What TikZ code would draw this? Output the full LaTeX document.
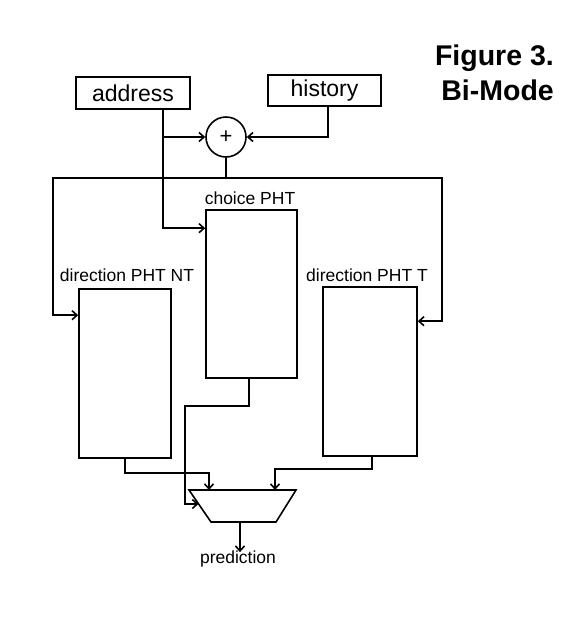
\documentclass[tikz,border=0pt]{standalone}
\usepackage{fontspec}
\setmainfont{Liberation Sans}
\usetikzlibrary{arrows.meta,calc}
\begin{document}
\begin{tikzpicture}[x=1pt,y=-1pt,
  wire/.style={line width=1.6pt, line join=miter},
  arr/.style={wire, -{Straight Barb[length=5pt,width=9pt,line width=1.6pt]}},
  box/.style={draw, line width=1.6pt, inner sep=0pt},
  lbl/.style={inner sep=0pt, font=\fontsize{17.5}{20}\selectfont},
  inlbl/.style={font=\fontsize{23}{26}\selectfont},
  title/.style={inner sep=0pt, font=\fontsize{28.5}{32}\selectfont\bfseries}]
\useasboundingbox (0,0) rectangle (580,622);
% title
\node[title, anchor=base east] (t1) at (554,65) {Figure 3.};
\node[title, anchor=base east] (t2) at (554,100) {Bi-Mode};
% inputs
\node[box, inlbl, minimum width=114pt, minimum height=32pt] (address) at (133,93) {address};
\node[box, inlbl, minimum width=113pt, minimum height=31pt] (history) at (324.5,90.5) {history};
\node[draw, circle, line width=1.6pt, minimum size=40pt, inner sep=0pt, font=\fontsize{22}{24}\selectfont] (xor) at (226,137) {+};
% tables
\node[box, minimum width=91pt, minimum height=168pt] (choice) at (251.5,294) {};
\node[box, minimum width=92pt, minimum height=169pt] (NT) at (125,373.5) {};
\node[box, minimum width=94pt, minimum height=169pt] (T) at (370,371.5) {};
\node[lbl, anchor=base] (lc) at (250,204) {choice PHT};
\node[lbl, anchor=base] (lnt) at (127,281) {direction PHT NT};
\node[lbl, anchor=base] (lt) at (367,281) {direction PHT T};
% mux
\coordinate (m1) at (189,490);
\coordinate (m2) at (296,490);
\coordinate (m3) at (276,522);
\coordinate (m4) at (211,522);
\draw[wire] (m1) -- (m2) -- (m3) -- (m4) -- cycle;
\coordinate (muxA) at (209,490);
\coordinate (muxB) at (275,490);
\coordinate (muxL) at (198.5,504);
\coordinate (muxO) at (240,522);
\node[lbl, anchor=base] (pred) at (238,563) {prediction};
% wiring
\coordinate (aout) at (163,109);
\coordinate (hout) at (328,106);
\coordinate (split) at (226,178);
\coordinate (lcorner) at (53,178);
\coordinate (rcorner) at (442,178);
\draw[arr] (aout) |- ([yshift=-19pt]choice.north west);
\draw[arr] (aout |- xor.west) -- (xor.west);
\draw[arr] (hout) |- (xor.east);
\draw[wire] (xor.south) -- (split);
\draw[arr] (split) -- (lcorner) |- ([yshift=-27pt]NT.north west);
\draw[arr] (split) -- (rcorner) |- ([yshift=-35pt]T.north east);
\draw[arr] ([xshift=-2.5pt]choice.south) |- (185,406) |- (muxL);
\draw[arr] (NT.south) -- ++(0,14) -| (muxA);
\draw[arr] ([xshift=2pt]T.south) -- ++(0,12) -| (muxB);
\draw[arr] (muxO) -- ([yshift=-2pt]pred.north -| muxO);
\end{tikzpicture}
\end{document}
